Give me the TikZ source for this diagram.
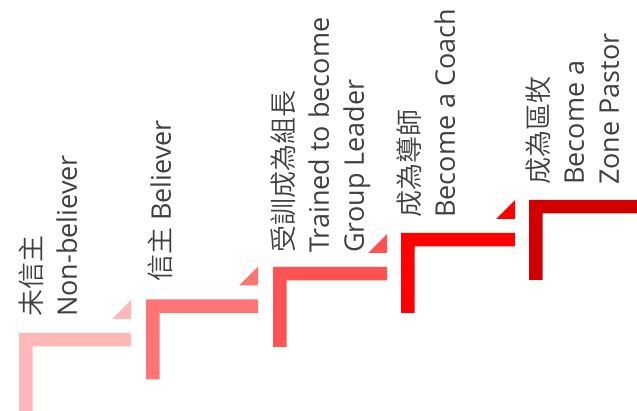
\documentclass[tikz,border=0pt]{standalone}
\usepackage{fontspec}
\setmainfont{Open Sans}
\IfFontExistsTF{Noto Sans CJK TC DemiLight}
  {\newfontfamily\cjk{Noto Sans CJK TC DemiLight}}
  {\newfontfamily\cjk{Noto Sans CJK TC}}
\definecolor{stepone}{RGB}{255,184,184}
\definecolor{steptwo}{RGB}{255,117,117}
\definecolor{stepthree}{RGB}{255,82,82}
\definecolor{stepfour}{RGB}{255,0,0}
\definecolor{stepfive}{RGB}{208,0,0}
\definecolor{labelgray}{RGB}{64,64,64}
\tikzset{
  steplabel/.style={rotate=90, anchor=north west, align=left, inner sep=0pt,
    text=labelgray, font=\fontsize{27}{35}\selectfont}
}

\begin{document}
\begin{tikzpicture}[x=1pt,y=-1pt]
      \useasboundingbox (0,0) rectangle (637,411);
      \begin{scope}
        % step 1
        \fill[stepone] (19,413)--(19,333)--(131,333)--(131,346.5)--(32.5,346.5)--(32.5,413)--cycle;
        \fill[stepone] (112,319)--(131,319)--(131,300)--cycle;
        \node[steplabel] (nonbeliever) at (19,317) {{\cjk 未信主}\\Non-believer};
        % step 2
        \fill[steptwo] (146,379.5)--(146,299.5)--(258,299.5)--(258,313)--(159.5,313)--(159.5,379.5)--cycle;
        \fill[steptwo] (239,285.5)--(258,285.5)--(258,266.5)--cycle;
        \node[steplabel] (believer) at (148,282) {{\cjk 信主} Believer};
        % step 3
        \fill[stepthree] (273,347)--(273,267)--(387,267)--(387,280.5)--(286.5,280.5)--(286.5,347)--cycle;
        \fill[stepthree] (368,253)--(387,253)--(387,234)--cycle;
        \node[steplabel] (leader) at (271,253) {{\cjk 受訓成為組長}\\Trained to become\\Group Leader};
        % step 4
        \fill[stepfour] (401,313)--(401,233)--(515,233)--(515,246.5)--(414.5,246.5)--(414.5,313)--cycle;
        \fill[stepfour] (496,219)--(515,219)--(515,200)--cycle;
        \node[steplabel] (coach) at (397,218) {{\cjk 成為導師}\\Become a Coach};
        % step 5
        \fill[stepfive] (529,280)--(529,200)--(641,200)--(641,213.5)--(542.5,213.5)--(542.5,280)--cycle;
        \node[steplabel] (pastor) at (526,185) {{\cjk 成為區牧}\\Become a\\Zone Pastor};
      \end{scope}
\end{tikzpicture}
\end{document}
